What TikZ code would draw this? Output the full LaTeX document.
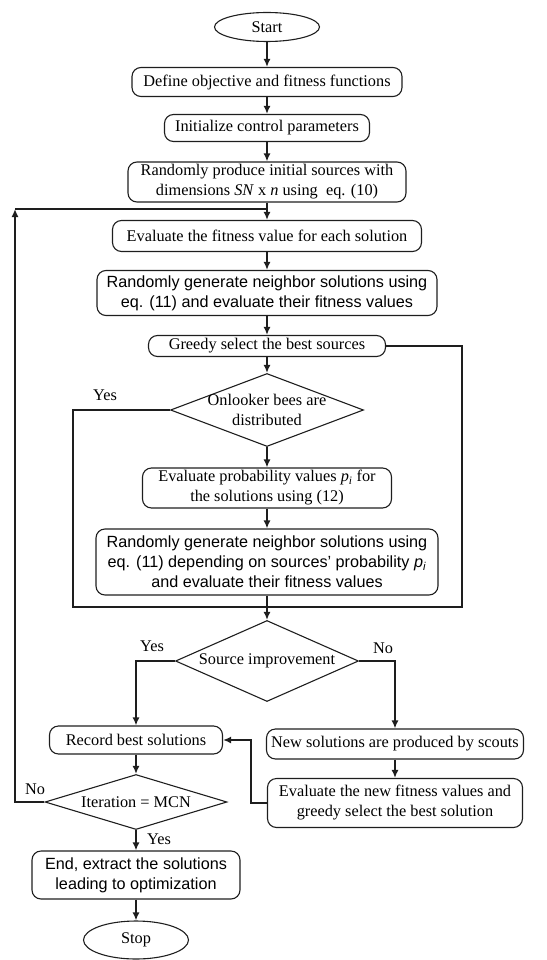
\documentclass[tikz,border=0pt]{standalone}
\usepackage{fontspec}
\setmainfont{Liberation Serif}
\setsansfont{Liberation Sans}
\usepackage{xcolor}
\usetikzlibrary{arrows.meta}
\usetikzlibrary{shapes.geometric}
\usetikzlibrary{math}
\definecolor{myline}{RGB}{30,30,30}

\tikzset{
  stepbox/.style={draw=myline, line width=1.1pt, rounded corners=9pt, align=center, inner sep=0pt, font=\fontsize{16.3}{20}\selectfont},
  sansbox/.style={stepbox, font=\sffamily\fontsize{16.2}{20}\selectfont},
  terminal/.style={draw=myline, line width=1.1pt, ellipse, inner sep=0pt, font=\fontsize{16.3}{20}\selectfont},
  decision/.style={draw=myline, line width=1.1pt, diamond, inner sep=0pt},
  txt/.style={align=center, inner sep=0pt, font=\fontsize{16.3}{20}\selectfont},
  conn/.style={draw=myline, line width=1.8pt},
  arr/.style={conn, -{Latex[length=8pt,width=7pt]}},
}

\begin{document}
\begin{tikzpicture}[x=1pt, y=-1pt]
\tikzmath{
\xc=267;
\xl=136;
\xr=395;
}
\useasboundingbox (0,0) rectangle (546,960);

\node[terminal, minimum width=105pt, minimum height=29pt] (start) at (\xc,27) {Start};
\node[stepbox, minimum width=270pt, minimum height=29pt] (define) at (\xc,82) {Define objective and fitness functions};
\node[stepbox, minimum width=205pt, minimum height=27pt] (init) at (\xc,128) {Initialize control parameters};
\node[stepbox, minimum width=278pt, minimum height=40pt] (produce) at (\xc,182) {Randomly produce initial sources with\\dimensions \textit{SN} x \textit{n} using~ eq. (10)};
\node[stepbox, minimum width=309pt, minimum height=31pt] (evalfit) at (\xc,236) {Evaluate the fitness value for each solution};
\node[sansbox, minimum width=340pt, minimum height=45pt] (neighbor) at (\xc,293) {Randomly generate neighbor solutions using\\eq. (11) and evaluate their fitness values};
\node[stepbox, minimum width=237pt, minimum height=21pt] (greedy) at (\xc,346) {Greedy select the best sources};

\node[decision, minimum width=193pt, minimum height=73pt] (onlook) at (\xc,410) {};
\node[txt] (onlooktxt) at (onlook) {Onlooker bees are\\distributed};
\node[txt] (yesa) at (105,395) {Yes};

\node[stepbox, minimum width=249pt, minimum height=40pt] (prob) at (\xc,488) {Evaluate probability values \textit{p}\textsubscript{\textit{i}} for\\the solutions using (12)};
\node[sansbox, minimum width=342pt, minimum height=66pt] (onlneighbor) at (\xc,562) {Randomly generate neighbor solutions using\\eq. (11) depending on sources' probability \textit{p}\textsubscript{\textit{i}}\\and evaluate their fitness values};

\node[decision, minimum width=183pt, minimum height=81pt] (improve) at (\xc,661) {};
\node[txt] (improvetxt) at (improve) {Source improvement};
\node[txt] (yesb) at (152,646) {Yes};
\node[txt] (nob) at (383,648) {No};

\node[stepbox, minimum width=173pt, minimum height=28pt] (record) at (\xl,740) {Record best solutions};
\node[stepbox, minimum width=257pt, minimum height=30pt] (scouts) at (\xr,744) {New solutions are produced by scouts};
\node[stepbox, minimum width=255pt, minimum height=49pt] (evalnew) at (\xr,803) {Evaluate the new fitness values and\\greedy select the best solution};

\node[decision, minimum width=182pt, minimum height=55pt] (iter) at (\xl,802) {};
\node[txt] (itertxt) at (iter) {Iteration = MCN};
\node[txt] (noc) at (35,789) {No};
\node[txt] (yesc) at (159,839) {Yes};

\node[sansbox, minimum width=208pt, minimum height=48pt] (finish) at (\xl,875) {End, extract the solutions\\leading to optimization};
\node[terminal, minimum width=105pt, minimum height=38pt] (stop) at (\xl,940) {Stop};

\coordinate (merge) at (\xc,209);
\coordinate (corner) at (15,209);
\coordinate (boxr) at (462,607);
\coordinate (boxl) at (73,607);

\draw[arr] (start) -- (define);
\draw[arr] (define) -- (init);
\draw[arr] (init) -- (produce);
\draw[arr] (produce) -- (evalfit);
\draw[arr] (evalfit) -- (neighbor);
\draw[arr] (neighbor) -- (greedy);
\draw[arr] (greedy) -- (onlook);
\draw[arr] (onlook) -- (prob);
\draw[arr] (prob) -- (onlneighbor);
\draw[arr] (onlneighbor) -- (improve);
\draw[conn] (greedy.east) -| (boxr) -- (boxl) |- (onlook.west);

\draw[arr] (improve.west) -| (record);
\draw[arr] (improve.east) -| (scouts);
\draw[arr] (scouts) -- (evalnew);
\draw[arr] (evalnew.west) -- ++(-16,0) |- (record.east);
\draw[arr] (record) -- (iter);
\draw[arr] (iter.west) -| (corner);
\draw[conn] (corner) -- (merge);
\draw[arr] (iter) -- (finish);
\draw[arr] (finish) -- (stop);
\end{tikzpicture}
\end{document}
